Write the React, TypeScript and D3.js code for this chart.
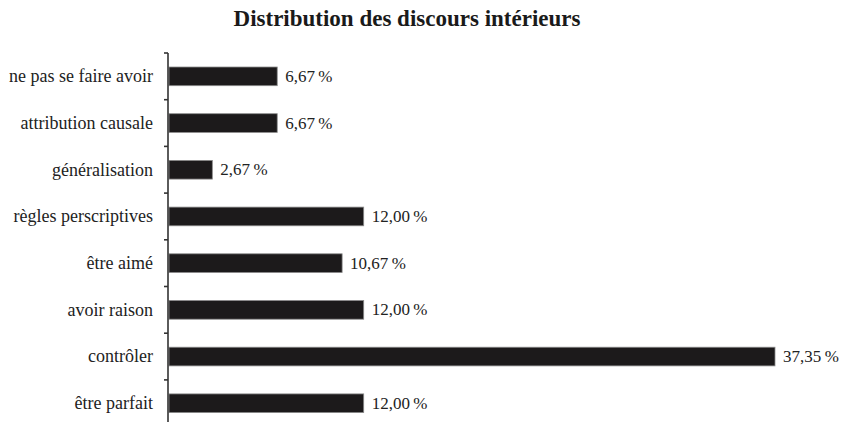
import { useEffect, useRef } from 'react';
import * as d3 from 'd3';

const categories = [
  'ne pas se faire avoir',
  'attribution causale',
  'généralisation',
  'règles perscriptives',
  'être aimé',
  'avoir raison',
  'contrôler',
  'être parfait',
];
const values = [6.67, 6.67, 2.67, 12.0, 10.67, 12.0, 37.35, 12.0];

const title = 'Distribution des discours intérieurs';

const fmt = (v: number) => v.toFixed(2).replace('.', ',') + '\u202F%';

const App = () => {
  const svgRef = useRef<SVGSVGElement | null>(null);
  const width = 846;
  const height = 422;

  useEffect(() => {
    const svg = d3.select(svgRef.current);
    svg.selectAll('*').remove();

    const font = '"Liberation Serif", "DejaVu Serif", serif';
    const margin = { top: 53, left: 168 };
    const bandTop = margin.top;
    const bandBottom = 426.6;

    const data = categories.map((c, i) => ({ category: c, value: values[i] }));

    // bands for ticks (no padding) and bars (centred inside)
    const yBand = d3.scaleBand<string>().domain(categories).range([bandTop, bandBottom]);
    const yBar = d3
      .scaleBand<string>()
      .domain(categories)
      .range([bandTop, bandBottom])
      .paddingInner(0.6)
      .paddingOuter(0.3);

    const xScale = d3.scaleLinear().domain([0, 37.35]).range([margin.left + 1, 775]);

    // Title
    svg
      .append('text')
      .attr('x', 407)
      .attr('y', 26)
      .attr('text-anchor', 'middle')
      .style('font-family', font)
      .style('font-weight', 'bold')
      .style('font-size', '23px')
      .style('fill', '#1a1a1a')
      .text(title);

    // Bars
    svg
      .selectAll('.bar')
      .data(data)
      .enter()
      .append('rect')
      .attr('class', 'bar')
      .attr('x', xScale(0))
      .attr('y', d => yBar(d.category)!)
      .attr('width', d => xScale(d.value) - xScale(0))
      .attr('height', yBar.bandwidth())
      .attr('fill', '#1c1a1b')
      .attr('stroke', '#8a8a8a')
      .attr('stroke-width', 0.8);

    // Value labels
    svg
      .selectAll('.bar-label')
      .data(data)
      .enter()
      .append('text')
      .attr('class', 'bar-label')
      .attr('x', d => xScale(d.value) + 8)
      .attr('y', d => yBar(d.category)! + yBar.bandwidth() / 2)
      .attr('dy', '0.33em')
      .style('font-family', font)
      .style('font-size', '17px')
      .style('fill', '#222')
      .text(d => fmt(d.value));

    // Category labels
    svg
      .selectAll('.cat-label')
      .data(categories)
      .enter()
      .append('text')
      .attr('class', 'cat-label')
      .attr('x', 153)
      .attr('y', d => yBar(d)! + yBar.bandwidth() / 2)
      .attr('dy', '0.33em')
      .attr('text-anchor', 'end')
      .style('font-family', font)
      .style('font-size', '18px')
      .style('fill', '#222')
      .text(d => d);

    // Y axis line with ticks on band edges
    const edges = categories.map(c => yBand(c)!).concat([bandBottom]);
    const axis = svg.append('g');
    axis
      .append('line')
      .attr('x1', margin.left)
      .attr('x2', margin.left)
      .attr('y1', bandTop)
      .attr('y2', bandBottom)
      .attr('stroke', '#333')
      .attr('stroke-width', 1.6);
    axis
      .selectAll('.tick')
      .data(edges)
      .enter()
      .append('line')
      .attr('class', 'tick')
      .attr('x1', margin.left - 4)
      .attr('x2', margin.left)
      .attr('y1', d => d)
      .attr('y2', d => d)
      .attr('stroke', '#333')
      .attr('stroke-width', 1.6);
  }, []);

  return (
    <svg
      ref={svgRef}
      width={width}
      height={height}
      style={{ position: 'absolute', top: 0, left: 0, background: '#fff' }}
    />
  );
};

export default App;
